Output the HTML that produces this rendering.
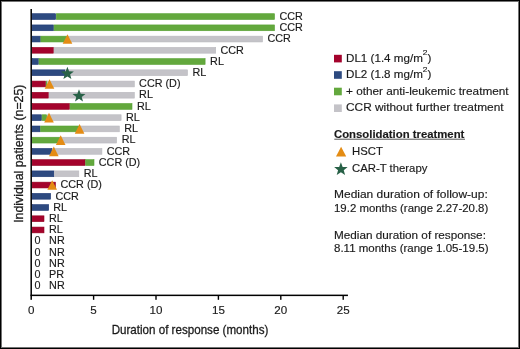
<!DOCTYPE html>
<html><head><meta charset="utf-8"><style>
html,body{margin:0;padding:0;background:#fff;}
#f{position:relative;width:520px;height:349px;overflow:hidden;background:#fff;font-family:'Liberation Sans', sans-serif;color:#1a1a1a;}
#f:after{content:"";position:absolute;left:0;top:0;right:0;bottom:0;border:1px solid #000;box-shadow:inset 0 0 0 1px rgba(0,0,0,.55);}
.t{position:absolute;white-space:nowrap;line-height:1;filter:grayscale(1);-webkit-text-stroke:0.15px #1a1a1a;}
.c{text-align:center;}
sup{font-size:72%;vertical-align:0;position:relative;top:-0.82em;}
svg{position:absolute;left:0;top:0;}
</style></head><body><div id="f">
<svg width="520" height="349" viewBox="0 0 520 349">
<rect x="32.10" y="13.70" width="23.60" height="5.80" fill="#2d4a80" stroke="#1d3873" stroke-width="0.6"/>
<rect x="56.30" y="13.70" width="218.20" height="5.80" fill="#63a83d" stroke="#56a132" stroke-width="0.6"/>
<rect x="32.10" y="24.93" width="21.40" height="5.80" fill="#2d4a80" stroke="#1d3873" stroke-width="0.6"/>
<rect x="54.10" y="24.93" width="220.40" height="5.80" fill="#63a83d" stroke="#56a132" stroke-width="0.6"/>
<rect x="32.10" y="36.16" width="8.20" height="5.80" fill="#2d4a80" stroke="#1d3873" stroke-width="0.6"/>
<rect x="40.90" y="36.16" width="26.30" height="5.80" fill="#63a83d" stroke="#56a132" stroke-width="0.6"/>
<rect x="67.80" y="36.16" width="194.70" height="5.80" fill="#c4c3c8" stroke="#bab9bf" stroke-width="0.6"/>
<path d="M67.50,34.26 L72.30,43.86 L62.70,43.86Z" fill="#e48c14"/>
<rect x="32.10" y="47.39" width="21.40" height="5.80" fill="#a4032c" stroke="#92001f" stroke-width="0.6"/>
<rect x="54.10" y="47.39" width="161.60" height="5.80" fill="#c4c3c8" stroke="#bab9bf" stroke-width="0.6"/>
<rect x="32.10" y="58.62" width="6.30" height="5.80" fill="#2d4a80" stroke="#1d3873" stroke-width="0.6"/>
<rect x="39.00" y="58.62" width="166.10" height="5.80" fill="#63a83d" stroke="#56a132" stroke-width="0.6"/>
<rect x="32.10" y="69.85" width="33.00" height="5.80" fill="#2d4a80" stroke="#1d3873" stroke-width="0.6"/>
<rect x="65.70" y="69.85" width="121.80" height="5.80" fill="#c4c3c8" stroke="#bab9bf" stroke-width="0.6"/>
<path d="M67.40,66.75 L69.08,71.24 L73.87,71.45 L70.12,74.43 L71.40,79.05 L67.40,76.41 L63.40,79.05 L64.68,74.43 L60.93,71.45 L65.72,71.24Z" fill="#286147"/>
<rect x="32.10" y="81.08" width="13.50" height="5.80" fill="#a4032c" stroke="#92001f" stroke-width="0.6"/>
<rect x="46.20" y="81.08" width="0.80" height="5.80" fill="#63a83d" stroke="#56a132" stroke-width="0.6"/>
<rect x="47.60" y="81.08" width="86.70" height="5.80" fill="#c4c3c8" stroke="#bab9bf" stroke-width="0.6"/>
<path d="M49.50,79.18 L54.30,88.78 L44.70,88.78Z" fill="#e48c14"/>
<rect x="32.10" y="92.31" width="16.40" height="5.80" fill="#a4032c" stroke="#92001f" stroke-width="0.6"/>
<rect x="49.10" y="92.31" width="85.20" height="5.80" fill="#c4c3c8" stroke="#bab9bf" stroke-width="0.6"/>
<path d="M79.00,89.21 L80.68,93.70 L85.47,93.91 L81.72,96.89 L83.00,101.51 L79.00,98.87 L75.00,101.51 L76.28,96.89 L72.53,93.91 L77.32,93.70Z" fill="#286147"/>
<rect x="32.10" y="103.54" width="37.40" height="5.80" fill="#a4032c" stroke="#92001f" stroke-width="0.6"/>
<rect x="70.10" y="103.54" width="61.90" height="5.80" fill="#63a83d" stroke="#56a132" stroke-width="0.6"/>
<rect x="32.10" y="114.77" width="9.40" height="5.80" fill="#2d4a80" stroke="#1d3873" stroke-width="0.6"/>
<rect x="42.10" y="114.77" width="4.60" height="5.80" fill="#63a83d" stroke="#56a132" stroke-width="0.6"/>
<rect x="47.30" y="114.77" width="73.80" height="5.80" fill="#c4c3c8" stroke="#bab9bf" stroke-width="0.6"/>
<path d="M49.00,112.87 L53.80,122.47 L44.20,122.47Z" fill="#e48c14"/>
<rect x="32.10" y="126.00" width="8.00" height="5.80" fill="#2d4a80" stroke="#1d3873" stroke-width="0.6"/>
<rect x="40.70" y="126.00" width="38.60" height="5.80" fill="#63a83d" stroke="#56a132" stroke-width="0.6"/>
<rect x="79.90" y="126.00" width="39.40" height="5.80" fill="#c4c3c8" stroke="#bab9bf" stroke-width="0.6"/>
<path d="M79.60,124.10 L84.40,133.70 L74.80,133.70Z" fill="#e48c14"/>
<rect x="32.10" y="137.23" width="28.30" height="5.80" fill="#63a83d" stroke="#56a132" stroke-width="0.6"/>
<rect x="61.00" y="137.23" width="55.60" height="5.80" fill="#c4c3c8" stroke="#bab9bf" stroke-width="0.6"/>
<path d="M60.70,135.33 L65.50,144.93 L55.90,144.93Z" fill="#e48c14"/>
<rect x="32.10" y="148.46" width="19.70" height="5.80" fill="#2d4a80" stroke="#1d3873" stroke-width="0.6"/>
<rect x="52.40" y="148.46" width="49.50" height="5.80" fill="#c4c3c8" stroke="#bab9bf" stroke-width="0.6"/>
<path d="M53.80,146.56 L58.60,156.16 L49.00,156.16Z" fill="#e48c14"/>
<rect x="32.10" y="159.69" width="53.00" height="5.80" fill="#a4032c" stroke="#92001f" stroke-width="0.6"/>
<rect x="85.70" y="159.69" width="8.30" height="5.80" fill="#63a83d" stroke="#56a132" stroke-width="0.6"/>
<rect x="32.10" y="170.92" width="21.80" height="5.80" fill="#2d4a80" stroke="#1d3873" stroke-width="0.6"/>
<rect x="54.50" y="170.92" width="24.30" height="5.80" fill="#c4c3c8" stroke="#bab9bf" stroke-width="0.6"/>
<rect x="32.10" y="182.15" width="23.30" height="5.80" fill="#a4032c" stroke="#92001f" stroke-width="0.6"/>
<path d="M52.20,180.25 L57.00,189.85 L47.40,189.85Z" fill="#e48c14"/>
<rect x="32.10" y="193.38" width="18.50" height="5.80" fill="#2d4a80" stroke="#1d3873" stroke-width="0.6"/>
<rect x="32.10" y="204.61" width="16.60" height="5.80" fill="#2d4a80" stroke="#1d3873" stroke-width="0.6"/>
<rect x="32.10" y="215.84" width="11.90" height="5.80" fill="#a4032c" stroke="#92001f" stroke-width="0.6"/>
<rect x="32.10" y="227.07" width="11.90" height="5.80" fill="#a4032c" stroke="#92001f" stroke-width="0.6"/>
<rect x="30.45" y="9" width="1.5" height="290.8" fill="#000"/>
<rect x="30.45" y="294.6" width="317.5" height="1.5" fill="#000"/>
<rect x="92.90" y="295" width="1.4" height="4.8" fill="#000"/>
<rect x="155.30" y="295" width="1.4" height="4.8" fill="#000"/>
<rect x="217.70" y="295" width="1.4" height="4.8" fill="#000"/>
<rect x="280.10" y="295" width="1.4" height="4.8" fill="#000"/>
<rect x="342.50" y="295" width="1.4" height="4.8" fill="#000"/>
<rect x="334" y="54.80" width="7.8" height="7.6" fill="#a4032c"/>
<rect x="334" y="71.20" width="7.8" height="7.6" fill="#2d4a80"/>
<rect x="334" y="87.70" width="7.8" height="7.6" fill="#63a83d"/>
<rect x="334" y="104.40" width="7.8" height="7.6" fill="#c4c3c8"/>
<rect x="334.3" y="138.7" width="130.7" height="1" fill="#555"/>
<path d="M341.10,146.80 L346.20,156.60 L336.00,156.60Z" fill="#e48c14"/>
<path d="M340.90,162.20 L342.65,166.89 L347.65,167.11 L343.74,170.22 L345.07,175.04 L340.90,172.28 L336.73,175.04 L338.06,170.22 L334.15,167.11 L339.15,166.89Z" fill="#286147"/>
</svg>
<div class="t" style="left:279.50px;top:10.86px;font-size:10.8px">CCR</div>
<div class="t" style="left:279.50px;top:22.09px;font-size:10.8px">CCR</div>
<div class="t" style="left:267.50px;top:33.32px;font-size:10.8px">CCR</div>
<div class="t" style="left:220.50px;top:44.55px;font-size:10.8px">CCR</div>
<div class="t" style="left:210.10px;top:55.78px;font-size:10.8px">RL</div>
<div class="t" style="left:192.40px;top:67.01px;font-size:10.8px">RL</div>
<div class="t" style="left:139.10px;top:78.24px;font-size:10.8px">CCR (D)</div>
<div class="t" style="left:139.10px;top:89.47px;font-size:10.8px">RL</div>
<div class="t" style="left:137.00px;top:100.70px;font-size:10.8px">RL</div>
<div class="t" style="left:126.00px;top:111.93px;font-size:10.8px">RL</div>
<div class="t" style="left:124.30px;top:123.16px;font-size:10.8px">RL</div>
<div class="t" style="left:121.70px;top:134.39px;font-size:10.8px">RL</div>
<div class="t" style="left:106.70px;top:145.62px;font-size:10.8px">CCR</div>
<div class="t" style="left:98.80px;top:156.85px;font-size:10.8px">CCR (D)</div>
<div class="t" style="left:83.80px;top:168.08px;font-size:10.8px">RL</div>
<div class="t" style="left:60.50px;top:179.31px;font-size:10.8px">CCR (D)</div>
<div class="t" style="left:55.40px;top:190.54px;font-size:10.8px">CCR</div>
<div class="t" style="left:53.30px;top:201.77px;font-size:10.8px">RL</div>
<div class="t" style="left:49.00px;top:213.00px;font-size:10.8px">RL</div>
<div class="t" style="left:49.00px;top:224.23px;font-size:10.8px">RL</div>
<div class="t" style="left:34.6px;top:235.46px;font-size:10.8px">0</div>
<div class="t" style="left:49.10px;top:235.46px;font-size:10.8px">NR</div>
<div class="t" style="left:34.6px;top:246.69px;font-size:10.8px">0</div>
<div class="t" style="left:49.10px;top:246.69px;font-size:10.8px">NR</div>
<div class="t" style="left:34.6px;top:257.92px;font-size:10.8px">0</div>
<div class="t" style="left:49.10px;top:257.92px;font-size:10.8px">NR</div>
<div class="t" style="left:34.6px;top:269.15px;font-size:10.8px">0</div>
<div class="t" style="left:49.10px;top:269.15px;font-size:10.8px">PR</div>
<div class="t" style="left:34.6px;top:280.38px;font-size:10.8px">0</div>
<div class="t" style="left:49.10px;top:280.38px;font-size:10.8px">NR</div>
<div class="t c" style="left:11.20px;width:40px;top:304.48px;font-size:11.6px">0</div>
<div class="t c" style="left:73.60px;width:40px;top:304.48px;font-size:11.6px">5</div>
<div class="t c" style="left:136.00px;width:40px;top:304.48px;font-size:11.6px">10</div>
<div class="t c" style="left:198.40px;width:40px;top:304.48px;font-size:11.6px">15</div>
<div class="t c" style="left:260.80px;width:40px;top:304.48px;font-size:11.6px">20</div>
<div class="t c" style="left:323.20px;width:40px;top:304.48px;font-size:11.6px">25</div>
<div class="t c" style="left:90px;width:200px;top:323.26px;font-size:13.4px;-webkit-text-stroke:0.3px #1a1a1a;transform:scaleX(0.8665)">Duration of response (months)</div>
<div class="t c" style="left:-81.4px;width:200px;top:146.70px;height:13.4px;font-size:13px;line-height:13.4px;-webkit-text-stroke:0.3px #1a1a1a;transform:rotate(-90deg) scaleX(0.95)">Individual patients (n=25)</div>
<div class="t" style="left:345.6px;top:52.63px;font-size:10.6px;transform-origin:0 0;transform:scaleX(1.097)">DL1 (1.4 mg/m<sup>2</sup>)</div>
<div class="t" style="left:345.6px;top:69.03px;font-size:10.6px;transform-origin:0 0;transform:scaleX(1.097)">DL2 (1.8 mg/m<sup>2</sup>)</div>
<div class="t" style="left:345.6px;top:85.53px;font-size:10.6px;transform-origin:0 0;transform:scaleX(1.111)">+ other anti-leukemic treatment</div>
<div class="t" style="left:345.6px;top:102.23px;font-size:10.6px;transform-origin:0 0;transform:scaleX(1.12)">CCR without further treatment</div>
<div class="t" style="left:334px;top:128.83px;font-size:10.6px;font-weight:bold;transform-origin:0 0;transform:scaleX(1.07)">Consolidation treatment</div>
<div class="t" style="left:352.3px;top:146.13px;font-size:10.6px;transform-origin:0 0;transform:scaleX(1.07)">HSCT</div>
<div class="t" style="left:352.1px;top:163.43px;font-size:10.6px;transform-origin:0 0;transform:scaleX(1.07)">CAR-T therapy</div>
<div class="t" style="left:334.0px;top:189.23px;font-size:10.6px;transform-origin:0 0;transform:scaleX(1.13)">Median duration of follow-up:</div>
<div class="t" style="left:334.0px;top:202.63px;font-size:10.6px;transform-origin:0 0;transform:scaleX(1.078)">19.2 months (range 2.27-20.8)</div>
<div class="t" style="left:334.0px;top:230.03px;font-size:10.6px;transform-origin:0 0;transform:scaleX(1.107)">Median duration of response:</div>
<div class="t" style="left:334.0px;top:243.43px;font-size:10.6px;transform-origin:0 0;transform:scaleX(1.086)">8.11 months (range 1.05-19.5)</div>
</div></body></html>
